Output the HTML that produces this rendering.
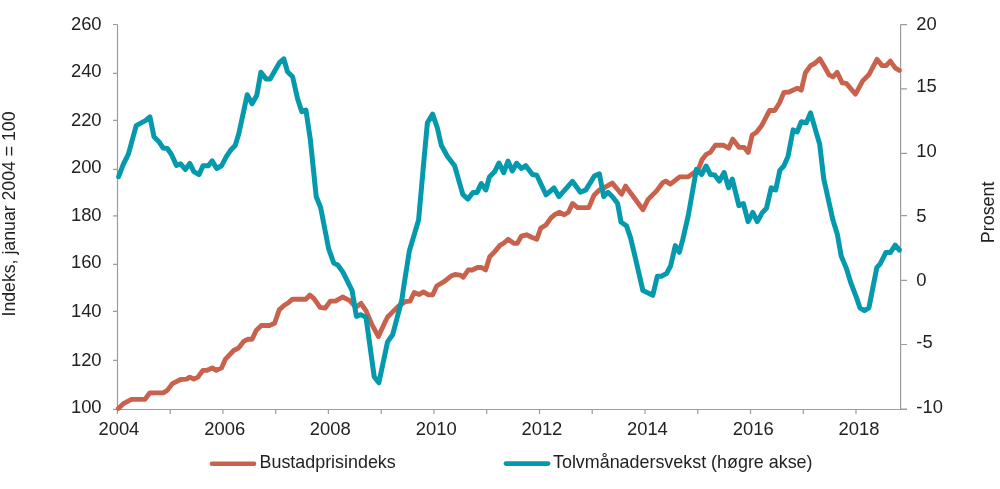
<!DOCTYPE html>
<html><head><meta charset="utf-8"><style>
html,body{margin:0;padding:0;background:#fff;overflow:hidden}
svg{display:block;will-change:transform}
text.ax{font-size:18.4px}
text{font-family:"Liberation Sans",sans-serif;font-size:17.9px;fill:#222}
</style></head><body>
<svg width="1000" height="489" viewBox="0 0 1000 489">
<path d="M117.5 24.5 V409.5 M900.6 24.5 V409.5 M117 409.5 H907" stroke="#9c9c9c" stroke-width="1.2" fill="none"/>
<path d="M113 24.5 H117.5 M113 73.4 H117.5 M113 120.3 H117.5 M113 169.3 H117.5 M113 215.9 H117.5 M113 264.4 H117.5 M113 311.3 H117.5 M113 360.3 H117.5 M113 409.3 H117.5 M900.6 24.6 H907 M900.6 88.9 H907 M900.6 153.4 H907 M900.6 215.7 H907 M900.6 280.3 H907 M900.6 344.5 H907 M900.6 409.0 H907 M117.4 409.5 V414 M170.2 409.5 V414 M222.9 409.5 V414 M275.7 409.5 V414 M328.4 409.5 V414 M381.2 409.5 V414 M434.0 409.5 V414 M486.7 409.5 V414 M539.5 409.5 V414 M592.2 409.5 V414 M645.0 409.5 V414 M697.8 409.5 V414 M750.5 409.5 V414 M803.3 409.5 V414 M856.0 409.5 V414" stroke="#9c9c9c" stroke-width="1.2" fill="none"/>
<text x="101.6" y="30.0" text-anchor="end" class="ax">260</text>
<text x="101.6" y="76.8" text-anchor="end" class="ax">240</text>
<text x="101.6" y="125.8" text-anchor="end" class="ax">220</text>
<text x="101.6" y="172.5" text-anchor="end" class="ax">200</text>
<text x="101.6" y="221.3" text-anchor="end" class="ax">180</text>
<text x="101.6" y="268.0" text-anchor="end" class="ax">160</text>
<text x="101.6" y="316.8" text-anchor="end" class="ax">140</text>
<text x="101.6" y="365.6" text-anchor="end" class="ax">120</text>
<text x="101.6" y="412.6" text-anchor="end" class="ax">100</text>
<text x="916.3" y="29.8" class="ax">20</text>
<text x="916.3" y="92.4" class="ax">15</text>
<text x="916.3" y="156.8" class="ax">10</text>
<text x="916.3" y="221.5" class="ax">5</text>
<text x="916.3" y="285.7" class="ax">0</text>
<text x="916.3" y="348.3" class="ax">-5</text>
<text x="916.3" y="412.9" class="ax">-10</text>
<text x="118.9" y="435.2" text-anchor="middle" class="ax">2004</text>
<text x="224.7" y="435.2" text-anchor="middle" class="ax">2006</text>
<text x="330.2" y="435.2" text-anchor="middle" class="ax">2008</text>
<text x="436.3" y="435.2" text-anchor="middle" class="ax">2010</text>
<text x="541.9" y="435.2" text-anchor="middle" class="ax">2012</text>
<text x="647.4" y="435.2" text-anchor="middle" class="ax">2014</text>
<text x="753.2" y="435.2" text-anchor="middle" class="ax">2016</text>
<text x="859.0" y="435.2" text-anchor="middle" class="ax">2018</text>
<text transform="translate(15.3 316.5) rotate(-90)" style="font-size:17.7px">Indeks, januar 2004 = 100</text>
<text transform="translate(993.7 243.2) rotate(-90)">Prosent</text>
<path d="M212 463.8 H254" stroke="#c9624d" stroke-width="4.6" stroke-linecap="round"/>
<text x="259.5" y="468.3">Bustadprisindeks</text>
<path d="M506 463.6 H548" stroke="#0599ad" stroke-width="4.8" stroke-linecap="round"/>
<text x="553" y="468.3">Tolvmånadersvekst (høgre akse)</text>
<polyline points="118.3,408.4 123.3,403.7 131.5,399.4 144.8,399.4 149.9,392.8 163.2,392.8 167.3,390.4 172.4,383.6 180.6,379.5 186.7,379.1 189.8,377.1 193.8,379.1 197.9,377.1 203,370.3 207.1,370.3 212.2,367.9 216.3,370.3 221.5,367.9 225.5,359.1 233.7,350.5 238.8,347.8 244,341.1 248,339.2 252.1,339.2 256.2,330.4 261.3,325.5 269.5,325.5 274.6,323.3 279.2,309.9 284.3,305.2 288.4,302.7 292.5,299.2 305.8,299.2 309.9,295 314,298.6 320.1,307.4 325.2,308.2 330.3,301.1 335.4,301.1 342.6,297 349.8,300.7 355.9,307.4 361,303.3 366.1,310.9 372.2,325.2 378.4,336.5 384.5,323.2 387.6,317 392.7,311.9 397.8,306.8 405,301.7 410.1,301.1 414.2,292.5 419.3,294.5 423.4,291.9 428.5,294.9 432.6,294.9 436.7,286 444.8,281.2 451,276.1 455.1,274.5 460.2,275.1 463.3,277.2 468.2,270 472.3,270 477.4,267.5 481.5,267.5 485.6,270 489.7,256.7 494.8,251.6 499.9,245.4 504,243 508.1,239.3 514.2,243.4 517.3,243.4 521.3,236.2 526.5,234.8 531.6,237.3 536.7,239.3 540.8,228.1 545.9,225 551,217.8 555.1,214.4 559.2,212.3 564.3,214.8 568.4,212.3 572.5,203.5 577.6,207.6 588.8,207.6 594,195.3 599.1,190.2 605.2,187.2 612.3,183.1 621.6,194.3 625.6,186.1 643,209.7 648.1,199.4 656.6,190.9 662.7,182.7 665.8,181.1 670.4,184.1 679.7,176.9 687.8,176.9 692.9,173.4 698.1,169.8 702.1,159.5 706.2,154.4 710.3,152.4 715.4,145.2 723.6,145.2 728.7,148.3 732.8,139.1 739,147.3 744.1,147.3 748.2,152.4 752.2,135 756.3,132.5 761.5,125.8 769.6,110.5 774.7,110.5 779.3,103.3 784,92.3 789.1,92 797.3,88.1 801.3,90.1 805.4,72.7 810.6,65.6 814.6,63.5 819.8,58.8 823.8,65.6 829,74.8 833,76.8 837.1,72.3 842.2,82.9 846.3,83.4 855.5,94.2 862.7,80.9 868.8,74.8 877,59.4 882.1,65.6 886.2,65.6 890.3,61.1 895.4,68.2 899.4,70.4" fill="none" stroke="#c9624d" stroke-width="4.85" stroke-linejoin="round" stroke-linecap="round"/>
<polyline points="118.6,176.7 123.3,164.4 128.4,154.2 136.2,125.6 145.8,120.4 149.9,116.8 154,136.8 159.1,141.9 163.2,148.1 167.3,148.5 171.3,154.2 176.5,165.4 180.6,163.8 185.3,169.5 189.8,163.4 193.8,171.6 199,174.6 203,165.8 208.2,165.8 212.2,160.9 216.7,168.5 221.5,165.8 226.6,156.2 230.7,150.1 235.2,145.4 238.8,133.7 247.2,94.8 252.1,103.8 256.8,95.2 260.9,72.3 266,78.9 270.1,78.9 279.3,62.9 283.8,58.8 287.5,71.7 292.6,76.8 297.7,99.3 301.8,111.6 305.9,110 310.4,140.2 316.2,196.5 320.7,207.7 328.6,248.6 333.7,262.9 337.8,265 342.9,272.1 352.1,290.6 356.4,316.4 360.9,314.7 366,317.4 374.2,376.7 378.9,382.8 387.5,341.9 392.6,334.8 401.8,300 403.3,289.5 409.4,250.7 418.6,220 424,159.5 427.4,122.7 432.6,114.1 437.3,127.8 441.3,145.2 447.5,156.5 454.6,165.7 462.8,194.4 467.9,199.1 473,192.4 477.1,192.4 481.2,183.6 485.9,189.9 489.4,176.9 494.5,171.8 499,163 503.7,172.7 508,161 512.3,170.9 516.6,163.3 521.5,168.4 525.8,165.7 532.5,174.5 536.8,175.2 546,194.8 554,188 558.9,196.6 572.4,181.3 580.4,192.3 585.9,189.9 594.5,175.8 599.4,173.9 603.7,196.6 608,192.3 612.9,197.2 617.6,203.5 621,222 626.6,226.1 630.7,238.4 635.8,259.9 642.9,290.6 652.8,295.3 657.3,276.2 661.3,276.2 666.5,273.6 670.6,266 675.3,245.6 679.3,252.3 682.8,239.4 688.3,215.4 696.4,169.4 701.6,174.5 706.1,166 710.5,174.5 714.7,175 719.4,181.1 724.1,172.5 728.6,187.8 732.3,179 738.9,205.6 743.4,203.6 748.1,221.6 752.8,212.4 757.3,221.6 762.4,212.4 766.5,208.3 771.2,187.8 775.7,189.9 779.8,170.4 783.8,166 788,156.5 793.1,129.9 797.2,131.9 801.3,121.7 806.4,122.7 810.5,112.9 819.7,144.2 823.7,178.6 832.9,220 837.4,234.6 841.2,256 846.4,268.4 850.9,283 856.5,297.6 859.9,307.8 864.4,310.5 868.9,307.8 876.8,267.7 880.2,263.9 885.8,252.6 890.3,252.6 895.2,245.2 899.4,250" fill="none" stroke="#0599ad" stroke-width="5" stroke-linejoin="round" stroke-linecap="round"/>
</svg></body></html>
